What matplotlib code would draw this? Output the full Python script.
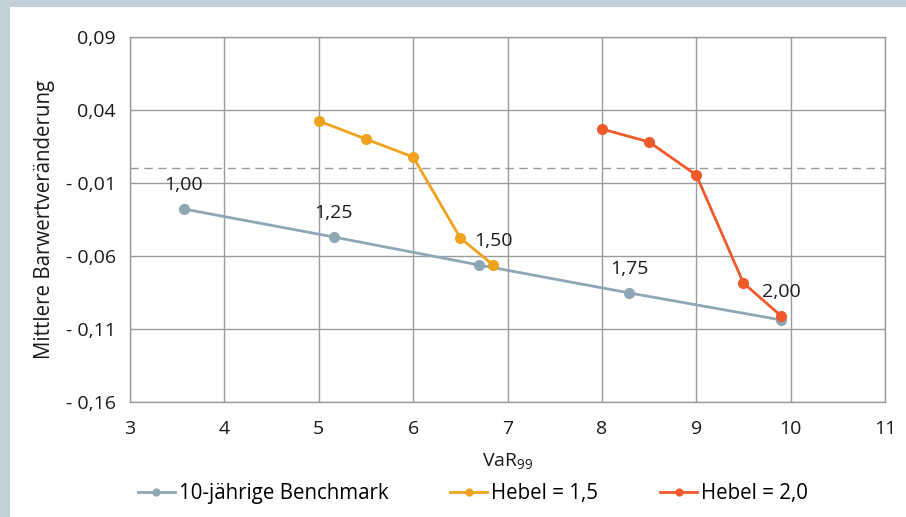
import matplotlib
matplotlib.use("Agg")
import matplotlib.pyplot as plt
from matplotlib.patches import Rectangle

plt.rcParams['font.family'] = ['Open Sans', 'DejaVu Sans']
plt.rcParams['mathtext.fontset'] = 'custom'
plt.rcParams['mathtext.rm'] = 'Open Sans'
plt.rcParams['mathtext.it'] = 'Open Sans'

# VaR99 (x) and mean change in present value (y)
bench_x = [3.57, 5.16, 6.70, 8.29, 9.90]
bench_y = [-0.0278, -0.0470, -0.0662, -0.0853, -0.1038]
h15_x = [5.0, 5.5, 6.0, 6.5, 6.85]
h15_y = [0.0325, 0.0201, 0.0078, -0.0477, -0.0662]
h20_x = [8.0, 8.5, 9.0, 9.5, 9.9]
h20_y = [0.0270, 0.0181, -0.0045, -0.0785, -0.1011]

lev_labels = ["1,00", "1,25", "1,50", "1,75", "2,00"]
lev_x = [bench_x[0], bench_x[1], h15_x[-1], bench_x[3], h20_x[-1]]
lev_y = [bench_y[0], bench_y[1], h15_y[-1], bench_y[3], h20_y[-1]]

y_ticks = [0.09, 0.04, -0.01, -0.06, -0.11, -0.16]
y_ticklabels = ["0,09", "0,04", "- 0,01", "- 0,06", "- 0,11", "- 0,16"]
x_ticks = [3, 4, 5, 6, 7, 8, 9, 10, 11]

series_names = ["10-jährige Benchmark", "Hebel = 1,5", "Hebel = 2,0"]
c_bench = "#8ea7b4"
c_h15 = "#f0a11e"
c_h20 = "#f05a2b"
c_grid = "#9b9b9b"
FS = 14
FS_BIG = 14.8

fig = plt.figure(figsize=(9.06, 5.17), dpi=100, facecolor="#c2d0da")
bg = Rectangle((10 / 906, 0), 1, 510 / 517, transform=fig.transFigure,
               facecolor="white", edgecolor="none", zorder=-10)
fig.add_artist(bg)
ax = fig.add_axes([130 / 906, 1 - 402 / 517, 755 / 906, 365 / 517])
ax.set_facecolor("white")

ax.plot(bench_x, bench_y, color=c_bench, lw=2.0, marker="o", ms=7, label=series_names[0], zorder=3)
ax.plot(h15_x, h15_y, color=c_h15, lw=2.0, marker="o", ms=7, label=series_names[1], zorder=4)
ax.plot(h20_x, h20_y, color=c_h20, lw=2.0, marker="o", ms=7, label=series_names[2], zorder=5)

ax.axhline(0.0, color=c_grid, lw=1.0, dashes=(6, 4), zorder=2)

for lab, x, y in zip(lev_labels, lev_x, lev_y):
    ax.annotate(lab, (x, y), xytext=(0, 17.5), textcoords="offset points",
                ha="center", va="center", fontsize=FS, color="#1a1a1a", zorder=6)

ax.set_xlim(3, 11)
ax.set_ylim(-0.16, 0.09)
ax.set_xticks(x_ticks)
ax.set_xticklabels([str(v) for v in x_ticks])
ax.set_yticks(y_ticks)
ax.set_yticklabels(y_ticklabels)
ax.tick_params(length=0, labelsize=FS, colors="#1a1a1a")
ax.tick_params(axis="y", pad=10)
ax.tick_params(axis="x", pad=13)
ax.grid(True, color=c_grid, lw=1.0, zorder=1)
ax.set_axisbelow(True)
for s in ax.spines.values():
    s.set_color(c_grid)
    s.set_linewidth(1.0)

ax.set_xlabel("VaR$_{99}$", fontsize=FS, color="#1a1a1a", labelpad=9)
ax.set_ylabel("Mittlere Barwertveränderung", fontsize=FS_BIG, color="#1a1a1a", labelpad=8)

fig.legend(loc="center", bbox_to_anchor=(473 / 906, 1 - 494 / 517), ncol=3, frameon=False,
           fontsize=FS_BIG, handlelength=1.8, columnspacing=3.0, handletextpad=0.2,
           markerscale=0.7)

fig.savefig("out.png", dpi=100, facecolor=fig.get_facecolor())
